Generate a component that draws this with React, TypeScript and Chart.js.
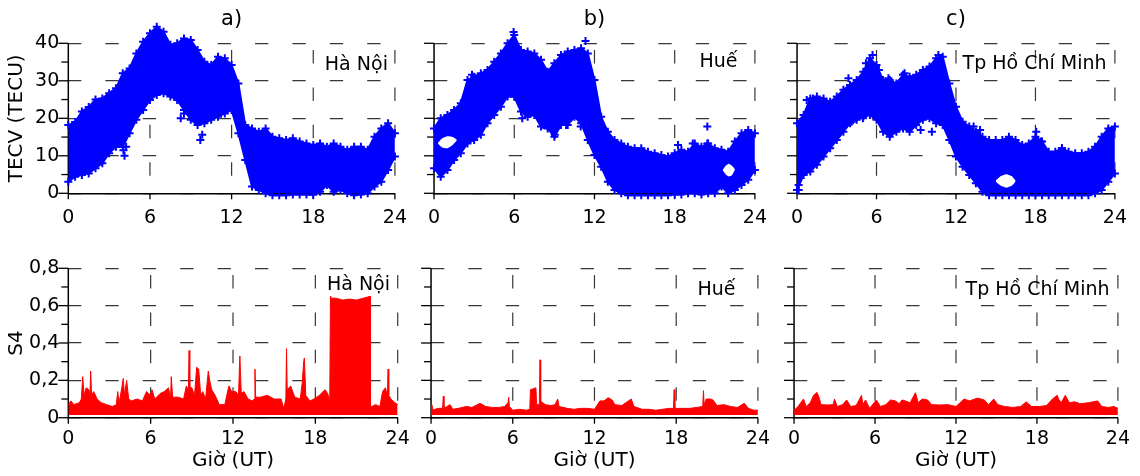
import React, { useEffect, useRef } from 'react';
import { Chart, registerables } from 'chart.js';

Chart.register(...registerables);

// ---------- categories / ticks ----------
const HOURS = [0, 0.5, 1, 1.5, 2, 2.5, 3, 3.5, 4, 4.5, 5, 5.5, 6, 6.5, 7, 7.5, 8, 8.5, 9, 9.5, 10, 10.5, 11, 11.5, 12, 12.5, 13, 13.5, 14, 14.5, 15, 15.5, 16, 16.5, 17, 17.5, 18, 18.5, 19, 19.5, 20, 20.5, 21, 21.5, 22, 22.5, 23, 23.5, 24];
const X_TICKS = [0, 6, 12, 18, 24];
const TEC_TICKS = [0, 10, 20, 30, 40];
const TEC_MINOR = [5, 15, 25, 35];
const S4_TICKS = [0, 0.2, 0.4, 0.6, 0.8];
const S4_MINOR = [0.1, 0.3, 0.5, 0.7];
const STATIONS = ['Hà Nội', 'Huế', 'Tp Hồ Chí Minh'];
const PANEL_TAGS = ['a)', 'b)', 'c)'];

// ---------- TECV envelopes (upper / lower edge of the point cloud, every 0.5 h) ----------
const HN_TEC_UPPER = [18.2, 19, 21.8, 23, 25, 25.3, 26.7, 28, 32, 33.3, 37.3, 40.4, 42.7, 44.4, 43.1, 39.6, 40, 41.3, 40.9, 38.2, 35.1, 34.2, 36.4, 36, 34.2, 29.3, 18.2, 17.3, 16.4, 17.3, 15.1, 14.7, 14.2, 14.7, 13.8, 13.3, 12.9, 13.3, 12.4, 13.3, 12.4, 11.6, 12.4, 12.4, 11.6, 15.1, 17.3, 18.7, 16];
const HN_TEC_LOWER = [3.1, 4.4, 4.9, 5.3, 6.7, 8, 10.7, 12.4, 12.4, 16, 19.6, 22.2, 24.9, 26.2, 26.7, 25.8, 24.9, 22.2, 19.6, 18.2, 18.7, 19.6, 20.4, 21.3, 22.2, 16, 8.9, 1.8, 0.9, 0, -0.5, -0.5, -0.5, -0.3, -0.3, -0.3, -0.4, 0.4, 2.2, 0.4, 0.9, 0, -0.5, -0.3, 0, 1.8, 3.1, 6.2, 9.8];
const HUE_TEC_UPPER = [17.3, 20, 20.9, 22.2, 24, 30.2, 31.1, 32, 32.9, 35.1, 37.3, 40, 42.2, 38.2, 37.8, 37.3, 35.6, 32.4, 34.7, 36.9, 37.8, 38.2, 38.7, 37.3, 30.2, 20.4, 16.4, 14.2, 13.3, 12.4, 12, 12, 11.1, 10.7, 10.2, 9.8, 10.7, 11.6, 11.1, 13.3, 12.4, 13.3, 12, 11.6, 11.1, 13.8, 16, 16.9, 16];
const HUE_TEC_LOWER = [6.7, 4.4, 6.2, 8.9, 10.7, 13.3, 14.2, 15.6, 18.7, 20.9, 23.1, 25.8, 25.8, 21.8, 20.4, 20.9, 17.8, 17.3, 15.1, 18.2, 18.2, 20.4, 18.7, 14.2, 10.2, 7.1, 3.1, 0.9, 0, -0.5, -0.5, -0.5, -0.5, -0.5, -0.5, -0.5, -0.3, -0.3, 0, 0, -0.3, 0, 0, 1.8, 0, 0.9, 2.2, 3.6, 6.2];
const HCM_TEC_UPPER = [18.7, 20.9, 25.3, 25.8, 25.3, 24.4, 25.8, 27.6, 28.9, 30.2, 32.4, 36, 34.2, 30.2, 30.2, 29.3, 31.6, 31.1, 31.6, 32.9, 33.8, 36, 36.4, 29.3, 23.1, 19.1, 17.8, 16.4, 15.1, 14.2, 14.2, 14.2, 15.1, 14.2, 12.9, 13.3, 15.1, 13.8, 11.1, 11.1, 12, 11.1, 10.7, 10.7, 11.1, 12.4, 15.1, 17.3, 17.8];
const HCM_TEC_LOWER = [0.9, 4.9, 5.8, 7.6, 9.8, 12, 14.2, 16.4, 18.7, 19.6, 20.4, 20.9, 19.6, 16.4, 15.1, 16.4, 17.3, 16.4, 18.2, 19.6, 20, 18.7, 18.2, 14.2, 9.8, 7.1, 4.9, 2.7, 0.4, -0.5, -0.5, -0.5, -0.5, -0.5, -0.5, -0.5, -0.5, -0.5, -0.5, -0.5, -0.5, -0.5, -0.5, -0.5, -0.5, 0, 0.9, 3.1, 5.3];

// isolated "+" points outside the envelopes [hour, TECU]
const HN_TEC_SCATTER = [[4.13, 10], [4.25, 12.4], [4.05, 11.5], [8.26, 20], [8.5, 21.3], [9.7, 14.2], [9.84, 15.6], [21.5, 3.1]];
const HUE_TEC_SCATTER = [[2.84, 31.6], [5.95, 43], [11.33, 40.6], [6.6, 20], [7.1, 21.3], [8.18, 18.2], [9.03, 15.6], [9.88, 18.2], [10.97, 17.8], [18.25, 12.9], [19.35, 13.3], [20.44, 17.8], [20.44, 13.3], [20.44, 0.9]];
const HCM_TEC_SCATTER = [[0.12, 0.9], [0.12, 2.2], [0.73, 24.9], [1.2, 25.3], [3.88, 30.7], [5.2, 34.7], [5.7, 36.9], [6.18, 32.9], [6.9, 30.7], [8.12, 32], [10.67, 36.9], [10.18, 16.4], [9.33, 16.9], [4.97, 20], [4.12, 19.1], [18.06, 16.4], [18.42, 13.8], [20, 12], [13.33, 17.8], [13.82, 16.9]];

// empty pockets inside the clouds [hour, low, high]
const HUE_GAP_MORNING = [[0.3, 13.2, 13.5], [0.6, 12.2, 14.6], [1.0, 12.0, 15.2], [1.4, 12.9, 15.0], [1.7, 14.0, 14.3]];
const HUE_GAP_NIGHT = [[21.6, 6.0, 6.3], [21.85, 4.9, 7.5], [22.05, 4.5, 7.9], [22.3, 4.9, 7.3], [22.5, 6.2, 6.5]];
const HCM_GAP = [[15.0, 3.1, 3.4], [15.4, 2.0, 4.6], [15.8, 1.5, 5.1], [16.2, 2.0, 4.6], [16.5, 3.1, 3.4]];

// ---------- S4 top envelope [hour, S4] ----------
const HN_S4 = [[0, 0.07], [0.2, 0.09], [0.4, 0.07], [0.8, 0.08], [0.95, 0.1], [1.05, 0.22], [1.15, 0.12], [1.3, 0.16], [1.5, 0.15], [1.58, 0.12], [1.63, 0.25], [1.7, 0.12], [1.85, 0.14], [2.1, 0.1], [2.4, 0.08], [2.8, 0.07], [3.2, 0.06], [3.5, 0.07], [3.6, 0.14], [3.7, 0.08], [3.9, 0.16], [4.0, 0.21], [4.1, 0.12], [4.25, 0.2], [4.4, 0.1], [4.6, 0.09], [5.0, 0.1], [5.4, 0.09], [5.7, 0.14], [6.0, 0.12], [6.1, 0.15], [6.3, 0.1], [6.7, 0.13], [7.0, 0.14], [7.3, 0.16], [7.45, 0.1], [7.5, 0.22], [7.6, 0.11], [8.0, 0.11], [8.4, 0.1], [8.6, 0.17], [8.75, 0.15], [8.8, 0.36], [8.85, 0.16], [9.0, 0.16], [9.2, 0.12], [9.35, 0.27], [9.5, 0.26], [9.65, 0.12], [9.8, 0.14], [10.0, 0.1], [10.2, 0.25], [10.3, 0.2], [10.45, 0.15], [10.7, 0.12], [11.0, 0.07], [11.4, 0.07], [11.7, 0.17], [11.9, 0.14], [12.2, 0.14], [12.4, 0.12], [12.5, 0.33], [12.6, 0.13], [12.8, 0.14], [13.1, 0.1], [13.4, 0.09], [13.55, 0.1], [13.6, 0.26], [13.65, 0.11], [14.0, 0.11], [14.5, 0.12], [15.0, 0.1], [15.5, 0.1], [15.7, 0.05], [15.85, 0.1], [15.9, 0.37], [15.95, 0.15], [16.2, 0.17], [16.5, 0.11], [16.9, 0.1], [17.05, 0.19], [17.15, 0.3], [17.2, 0.32], [17.3, 0.12], [17.6, 0.09], [17.9, 0.1], [18.3, 0.12], [18.7, 0.15], [18.9, 0.13], [19.05, 0.085], [19.1, 0.65], [19.12, 0.64], [19.5, 0.64], [20.0, 0.63], [20.5, 0.635], [21.0, 0.63], [21.5, 0.64], [22.0, 0.65], [22.02, 0.06], [22.1, 0.06], [22.4, 0.07], [22.7, 0.06], [22.9, 0.14], [23.1, 0.16], [23.25, 0.12], [23.3, 0.26], [23.35, 0.12], [23.5, 0.1], [23.8, 0.08], [24, 0.07]];
const HUE_S4 = [[0, 0.04], [0.05, 0.07], [0.15, 0.04], [0.5, 0.05], [0.85, 0.05], [0.9, 0.115], [0.95, 0.05], [1.4, 0.07], [1.6, 0.045], [2.0, 0.05], [2.6, 0.06], [3.0, 0.055], [3.6, 0.077], [4.0, 0.06], [4.5, 0.055], [5.0, 0.055], [5.4, 0.06], [5.65, 0.08], [5.7, 0.11], [5.75, 0.06], [6.0, 0.04], [6.5, 0.045], [7.0, 0.04], [7.25, 0.045], [7.3, 0.15], [7.5, 0.155], [7.7, 0.16], [7.75, 0.07], [7.95, 0.07], [8.0, 0.31], [8.05, 0.08], [8.1, 0.085], [8.4, 0.07], [8.8, 0.065], [9.1, 0.07], [9.3, 0.1], [9.4, 0.06], [10.0, 0.05], [10.5, 0.045], [11.0, 0.05], [11.5, 0.05], [12.0, 0.045], [12.4, 0.09], [12.7, 0.09], [13.0, 0.107], [13.3, 0.095], [13.5, 0.07], [14.0, 0.065], [14.7, 0.1], [14.9, 0.06], [15.5, 0.045], [16.0, 0.045], [16.5, 0.04], [17.0, 0.045], [17.5, 0.05], [17.8, 0.05], [17.85, 0.15], [17.9, 0.05], [18.5, 0.05], [19.0, 0.05], [19.5, 0.055], [19.95, 0.06], [20.0, 0.145], [20.05, 0.07], [20.2, 0.1], [20.5, 0.1], [20.7, 0.095], [21.0, 0.065], [21.5, 0.07], [22.0, 0.06], [22.5, 0.055], [23.0, 0.077], [23.3, 0.05], [23.7, 0.04], [24, 0.04]];
const HCM_S4 = [[0, 0.04], [0.3, 0.06], [0.7, 0.1], [0.9, 0.06], [1.2, 0.08], [1.45, 0.12], [1.7, 0.135], [1.85, 0.11], [2.0, 0.07], [2.5, 0.068], [2.9, 0.07], [3.0, 0.1], [3.2, 0.06], [3.6, 0.07], [3.9, 0.095], [4.2, 0.06], [4.6, 0.065], [5.0, 0.12], [5.1, 0.07], [5.3, 0.095], [5.6, 0.05], [6.1, 0.095], [6.4, 0.06], [6.8, 0.07], [7.15, 0.095], [7.5, 0.09], [7.8, 0.075], [8.0, 0.095], [8.25, 0.09], [8.6, 0.08], [9.0, 0.134], [9.2, 0.08], [9.5, 0.1], [9.9, 0.095], [10.2, 0.07], [10.8, 0.068], [11.4, 0.07], [12.0, 0.06], [12.6, 0.1], [13.0, 0.09], [13.6, 0.105], [14.1, 0.095], [14.4, 0.07], [14.8, 0.1], [15.1, 0.07], [15.6, 0.06], [16.2, 0.055], [16.8, 0.06], [17.2, 0.085], [17.6, 0.06], [18.2, 0.06], [18.7, 0.065], [19.15, 0.1], [19.5, 0.12], [19.6, 0.1], [19.8, 0.08], [20.1, 0.12], [20.4, 0.08], [20.8, 0.085], [21.2, 0.075], [21.8, 0.08], [22.5, 0.09], [22.8, 0.06], [23.3, 0.055], [23.7, 0.06], [24, 0.05]];

const TEC_UPPER = [HN_TEC_UPPER, HUE_TEC_UPPER, HCM_TEC_UPPER];
const TEC_LOWER = [HN_TEC_LOWER, HUE_TEC_LOWER, HCM_TEC_LOWER];
const TEC_SCATTER = [HN_TEC_SCATTER, HUE_TEC_SCATTER, HCM_TEC_SCATTER];
const TEC_GAPS = [[], [HUE_GAP_MORNING, HUE_GAP_NIGHT], [HCM_GAP]];
const S4_SERIES = [HN_S4, HUE_S4, HCM_S4];

// ---------- style ----------
const FONT = "'DejaVu Sans', 'Liberation Sans', sans-serif";
const BLUE = 'rgb(0,0,255)';
const RED = 'rgb(255,0,0)';
const GRID = 'rgb(55,55,55)';
const INK = '#000';

type Spec = {
  key: string; kind: 'tec' | 's4'; col: number;
  left: number; top: number; width: number; height: number;
  padL: number; padR: number; padT: number; padB: number;
  labelRight: number; labelDown: number;
};

const COLS = [
  { left: 0, width: 420, padL: 68.3, padR: 22.3 },
  { left: 415, width: 365, padL: 16, padR: 19.3 },
  { left: 778, width: 362, padL: 15.3, padR: 16.7 },
];
const TOP_LABEL = [[7, 26.7], [17.4, 23.4], [8.3, 26]];
const BOT_LABEL = [[7.7, 21.5], [22.4, 26.7], [8.3, 26.5]];

const SPECS: Spec[] = [];
COLS.forEach((c, i) => {
  SPECS.push({ key: 't' + i, kind: 'tec', col: i, left: c.left, top: 0, width: c.width, height: 235, padL: c.padL, padR: c.padR, padT: 20.8, padB: 41.7, labelRight: TOP_LABEL[i][0], labelDown: TOP_LABEL[i][1] });
  SPECS.push({ key: 's' + i, kind: 's4', col: i, left: c.left, top: 235, width: c.width, height: 241, padL: c.padL, padR: c.padR, padT: 33.3, padB: 58.3, labelRight: BOT_LABEL[i][0], labelDown: BOT_LABEL[i][1] });
});

const decorPlugin = {
  id: 'decor',
  beforeDatasetsDraw(chart: any, _a: any, o: any) {
    const { ctx } = chart;
    const xs = chart.scales.x;
    const ys = chart.scales.y;
    const yTop = ys.getPixelForValue(o.axisMax);
    const yBot = ys.getPixelForValue(0);
    const x0 = xs.getPixelForValue(0);
    const seg = (a: number, b: number, c: number, d: number) => {
      ctx.beginPath(); ctx.moveTo(a, b); ctx.lineTo(c, d); ctx.stroke();
    };
    ctx.save();
    // vertical dashed grid
    ctx.strokeStyle = GRID;
    ctx.lineWidth = 1.2;
    ctx.setLineDash([13.5, 23.9]);
    ctx.lineDashOffset = 30.7;
    for (const t of X_TICKS) {
      if (t === 0) continue;
      const px = xs.getPixelForValue(t);
      seg(px, yTop, px, yBot);
    }
    ctx.setLineDash([]);
    // left axis and tick marks
    ctx.strokeStyle = INK;
    ctx.lineWidth = 1.5;
    seg(x0, yTop, x0, yBot + 0.7);
    ctx.lineWidth = 1.3;
    for (const v of o.majors) { const py = ys.getPixelForValue(v); seg(x0 - 10, py, x0, py); }
    for (const v of o.minors) { const py = ys.getPixelForValue(v); seg(x0 - 7, py, x0, py); }
    for (const t of X_TICKS) { const px = xs.getPixelForValue(t); seg(px, yBot, px, yBot + 6); }
    ctx.restore();
  },
  afterDatasetsDraw(chart: any, _a: any, o: any) {
    const { ctx, chartArea } = chart;
    const ys = chart.scales.y;
    ctx.save();
    ctx.fillStyle = INK;
    ctx.textBaseline = 'alphabetic';
    if (o.tag) {
      ctx.font = `21px ${FONT}`;
      ctx.textAlign = 'center';
      ctx.fillText(o.tag, (chartArea.left + chartArea.right) / 2, 25);
    }
    ctx.font = `19px ${FONT}`;
    ctx.textAlign = 'right';
    ctx.fillText(o.station, chartArea.right - o.labelRight, ys.getPixelForValue(o.axisMax) + o.labelDown);
    if (o.yTitle) {
      // axis title centred on the 0..axisMax span (the scale itself runs a little higher)
      const cy = (ys.getPixelForValue(0) + ys.getPixelForValue(o.axisMax)) / 2;
      ctx.translate(17, cy);
      ctx.rotate(-Math.PI / 2);
      ctx.font = `20px ${FONT}`;
      ctx.textAlign = 'center';
      ctx.textBaseline = 'middle';
      ctx.fillText(o.yTitle, 0, 0);
    }
    ctx.restore();
  },
};

function tecDatasets(col: number) {
  const ds: any[] = [];
  ds.push({
    data: TEC_SCATTER[col].map(([x, y]) => ({ x, y })),
    showLine: false, pointStyle: 'cross', pointRadius: 4, pointBorderWidth: 2,
    borderColor: BLUE, backgroundColor: BLUE, clip: false,
  });
  for (const gap of TEC_GAPS[col] as number[][][]) {
    const hiIdx = ds.length;
    ds.push({
      data: gap.map(([x, , hi]) => ({ x, y: hi })),
      borderWidth: 0, pointRadius: 0, fill: hiIdx + 1, backgroundColor: '#ffffff', borderColor: 'rgba(0,0,0,0)', tension: 0.15,
    });
    ds.push({
      data: gap.map(([x, lo]) => ({ x, y: lo })),
      borderWidth: 0, pointRadius: 0, fill: false, borderColor: 'rgba(0,0,0,0)', tension: 0.15,
    });
  }
  const upIdx = ds.length;
  ds.push({
    data: HOURS.map((h, i) => ({ x: h, y: TEC_UPPER[col][i] })),
    borderColor: BLUE, backgroundColor: BLUE, borderWidth: 2, fill: upIdx + 1,
    pointStyle: 'cross', pointRadius: 4, pointBorderWidth: 2, clip: false,
  });
  ds.push({
    data: HOURS.map((h, i) => ({ x: h, y: TEC_LOWER[col][i] })),
    borderColor: BLUE, backgroundColor: BLUE, borderWidth: 2, fill: false,
    pointStyle: 'cross', pointRadius: 4, pointBorderWidth: 2, clip: false,
  });
  return ds;
}

function s4Datasets(col: number) {
  return [{
    data: S4_SERIES[col].map(([x, y]) => ({ x, y })),
    borderColor: RED, backgroundColor: RED, borderWidth: 1, pointRadius: 0,
    fill: { value: 0.015 }, clip: false,
  }];
}

function buildConfig(spec: Spec): any {
  const isTec = spec.kind === 'tec';
  const majors = isTec ? TEC_TICKS : S4_TICKS;
  const minors = isTec ? TEC_MINOR : S4_MINOR;
  const axisMax = isTec ? 40 : 0.8;
  const tickFont = { family: FONT, size: 19 };
  const titleFont = { family: FONT, size: 20 };
  const fmt = (v: number) => (isTec ? String(v) : v === 0 ? '0' : v.toFixed(1).replace('.', ','));
  return {
    type: 'line',
    data: { datasets: isTec ? tecDatasets(spec.col) : s4Datasets(spec.col) },
    options: {
      animation: false,
      responsive: false,
      maintainAspectRatio: false,
      events: [],
      layout: { padding: { top: spec.padT, right: spec.padR, left: 0, bottom: 0 }, autoPadding: false },
      elements: { line: { tension: 0 } },
      plugins: {
        legend: { display: false },
        tooltip: { enabled: false },
        decor: {
          axisMax, majors, minors,
          tag: isTec ? PANEL_TAGS[spec.col] : '',
          station: STATIONS[spec.col],
          labelRight: spec.labelRight, labelDown: spec.labelDown,
          yTitle: isTec && spec.col === 0 ? 'TECV (TECU)' : '',
        },
      },
      scales: {
        x: {
          type: 'linear', min: 0, max: 24,
          afterBuildTicks: (s: any) => { s.ticks = X_TICKS.map((v) => ({ value: v })); },
          afterFit: (s: any) => { s.height = spec.padB; },
          grid: { display: false, drawTicks: false },
          border: { display: true, color: INK, width: 1.5 },
          ticks: { padding: isTec ? 13 : 10, color: INK, font: tickFont, maxRotation: 0, autoSkip: false },
          title: isTec ? { display: false } : { display: true, text: 'Giờ (UT)', color: INK, font: titleFont, padding: { top: 0, bottom: 3 } },
        },
        y: {
          type: 'linear', min: 0, max: isTec ? 46 : 0.8,
          afterBuildTicks: (s: any) => { s.ticks = majors.map((v) => ({ value: v })); },
          afterFit: (s: any) => { s.width = spec.padL; },
          grid: { color: GRID, lineWidth: 1.2, drawTicks: false, borderDash: [13.3, 24.1] },
          border: { display: false, dash: [13.3, 24.1] },
          ticks: { display: spec.col === 0, padding: 9, color: INK, font: tickFont, callback: (v: any) => fmt(Number(v)) },
          title: spec.col === 0 && !isTec
            ? { display: true, text: 'S4', color: INK, font: titleFont, padding: { top: 5, bottom: 0 } }
            : { display: false },
        },
      },
    },
    plugins: [decorPlugin],
  };
}

function Panel({ spec }: { spec: Spec }) {
  const ref = useRef<HTMLCanvasElement>(null);
  useEffect(() => {
    const chart = new Chart(ref.current as HTMLCanvasElement, buildConfig(spec));
    return () => chart.destroy();
  }, [spec]);
  return (
    <canvas
      ref={ref}
      width={spec.width}
      height={spec.height}
      style={{ position: 'absolute', left: spec.left, top: spec.top, width: spec.width, height: spec.height }}
    />
  );
}

export default function App() {
  return (
    <div style={{ position: 'absolute', left: 0, top: 0, width: 1140, height: 476, background: '#fff', overflow: 'hidden' }}>
      {SPECS.map((s) => (
        <Panel key={s.key} spec={s} />
      ))}
    </div>
  );
}
